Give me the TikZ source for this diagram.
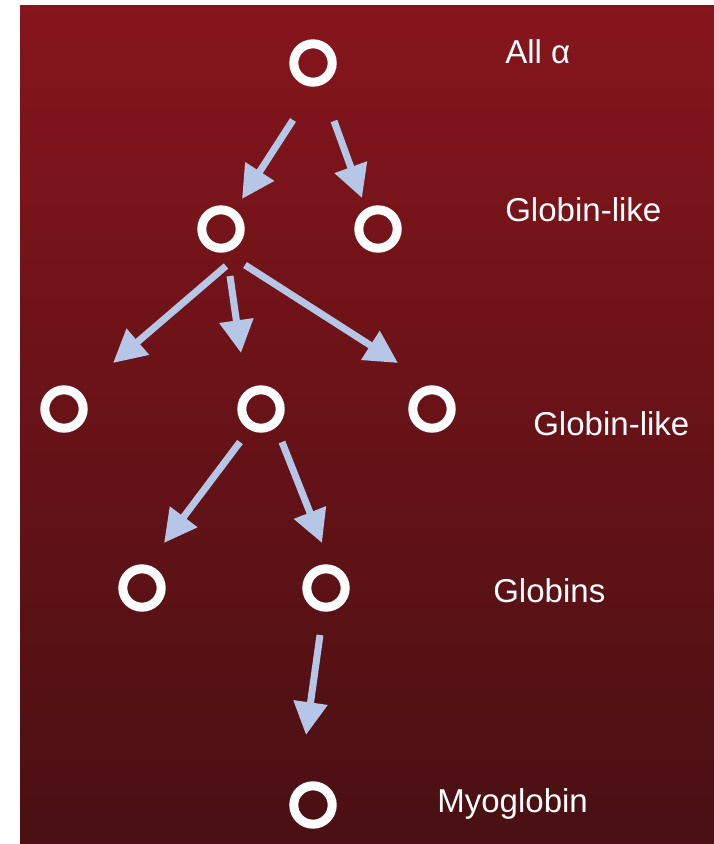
\documentclass[tikz,border=0pt]{standalone}
\usepackage{fontspec}
\setmainfont{Liberation Sans}
\usepackage{tikz}
\usetikzlibrary{arrows.meta,calc}
\definecolor{bgtop}{RGB}{134,21,28}
\definecolor{bgbottom}{RGB}{73,16,19}
\definecolor{arrowblue}{RGB}{182,198,230}

\begin{document}
\begin{tikzpicture}[x=0.025cm,y=-0.025cm,
  ring/.style={circle,draw=white,line width=0.225cm,minimum size=0.96cm,inner sep=0pt},
  flow/.style={draw=arrowblue,line width=0.175cm,-{Triangle[length=0.82cm,width=0.82cm]}},
  lab/.style={text=white,anchor=base west,inner sep=0pt,font=\fontsize{23.5}{28}\selectfont}]

\fill[white] (0,0) rectangle (714,844);
\useasboundingbox (0,0) rectangle (714,844);
\shade[top color=bgtop,bottom color=bgbottom] (20,5) rectangle (714,844);

% tree of folds
\node[ring] (all) at (313,63) {};
\node[ring] (gl1) at (221,229) {};
\node[ring] (gl2) at (378,229) {};
\node[ring] (gk1) at (64,409) {};
\node[ring] (gk2) at (261,409) {};
\node[ring] (gk3) at (432,409) {};
\node[ring] (gb1) at (142,588) {};
\node[ring] (gb2) at (326,588) {};
\node[ring] (myo) at (313,805) {};

\draw[flow] ($(all)+(-20,57)$) -- ($(gl1)+(21,-30)$);
\draw[flow] ($(all)+(21,58)$) -- ($(gl2)+(-16,-31)$);
\draw[flow] ($(gl1)+(5,37)$) -- ($(gk1)+(49,-46)$);
\draw[flow] ($(gl1)+(9,47)$) -- ($(gk2)+(-20,-56)$);
\draw[flow] ($(gl1)+(24,36)$) -- ($(gk3)+(-34,-46)$);
\draw[flow] ($(gk2)+(-21,33)$) -- ($(gb1)+(22,-45)$);
\draw[flow] ($(gk2)+(21,33)$) -- ($(gb2)+(-4,-45)$);
\draw[flow] ($(gb2)+(-6,47)$) -- ($(myo)+(-7,-70)$);

% level names
\node[lab] (lall) at (505,63) {All α};
\node[lab] (lgl) at (505,221) {Globin-like};
\node[lab] (lgk) at (533,435) {Globin-like};
\node[lab] (lgb) at (493,602) {Globins};
\node[lab] (lmyo) at (437,812) {Myoglobin};
\end{tikzpicture}
\end{document}
